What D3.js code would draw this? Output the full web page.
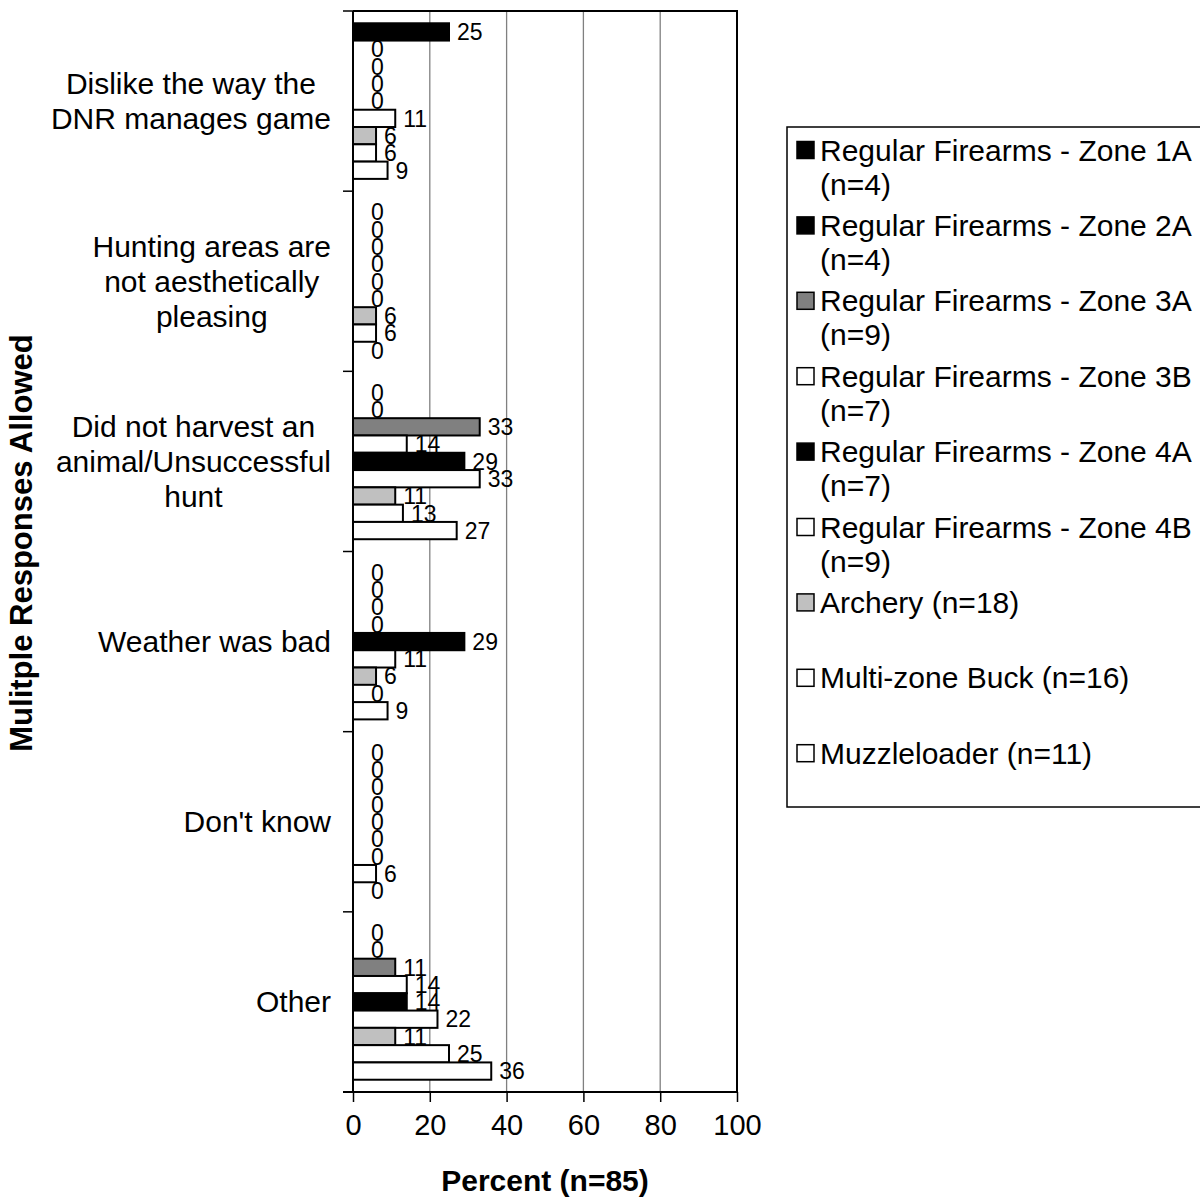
<!DOCTYPE html>
<html><head><meta charset="utf-8">
<script src="https://cdn.jsdelivr.net/npm/d3@7"></script>
<style>body{margin:0;background:#fff} text{font-family:"Liberation Sans",Arial,sans-serif;fill:#000}</style>
</head><body><svg id="c" width="1200" height="1203"></svg>
<script>
// ---------- DATA ----------
const categories = ["Dislike the way the DNR manages game","Hunting areas are not aesthetically pleasing","Did not harvest an animal/Unsuccessful hunt","Weather was bad","Don't know","Other"];
const categoryLines = [["Dislike the way the","DNR manages game"],["Hunting areas are","not aesthetically","pleasing"],["Did not harvest an","animal/Unsuccessful","hunt"],["Weather was bad"],["Don't know"],["Other"]];
const seriesNames = ["Regular Firearms - Zone 1A (n=4)","Regular Firearms - Zone 2A (n=4)","Regular Firearms - Zone 3A (n=9)","Regular Firearms - Zone 3B (n=7)","Regular Firearms - Zone 4A (n=7)","Regular Firearms - Zone 4B (n=9)","Archery (n=18)","Multi-zone Buck (n=16)","Muzzleloader (n=11)"];
const legendLines = [["Regular Firearms - Zone 1A","(n=4)"],["Regular Firearms - Zone 2A","(n=4)"],["Regular Firearms - Zone 3A","(n=9)"],["Regular Firearms - Zone 3B","(n=7)"],["Regular Firearms - Zone 4A","(n=7)"],["Regular Firearms - Zone 4B","(n=9)"],["Archery (n=18)"],["Multi-zone Buck (n=16)"],["Muzzleloader (n=11)"]];
const zone1A = [25, 0, 0, 0, 0, 0];
const zone2A = [0, 0, 0, 0, 0, 0];
const zone3A = [0, 0, 33, 0, 0, 11];
const zone3B = [0, 0, 14, 0, 0, 14];
const zone4A = [0, 0, 29, 29, 0, 14];
const zone4B = [11, 0, 33, 11, 0, 22];
const archery = [6, 6, 11, 6, 0, 11];
const multiZoneBuck = [6, 6, 13, 0, 6, 25];
const muzzleloader = [9, 0, 27, 9, 0, 36];
const xTicks = [0, 20, 40, 60, 80, 100];
const xTitle = "Percent (n=85)";
const yTitle = "Mulitple Responses Allowed";

(function draw() {
const seriesValues = [zone1A, zone2A, zone3A, zone3B, zone4A, zone4B, archery, multiZoneBuck, muzzleloader];
const fills = ["#000000","#000000","#808080","#ffffff","#000000","#ffffff","#c0c0c0","#ffffff","#ffffff"];
const FONT = 30, LABEL_FONT = 23;

const svg = d3.select("#c");
const pL = 353, pR = 737, pT = 11, pB = 1092;

const x = d3.scaleLinear().domain([0, 100]).range([pL, pR]);
const yCat = d3.scaleBand().domain(d3.range(categories.length)).range([pT, pB]).padding(0);
const ySer = d3.scaleBand().domain(d3.range(seriesNames.length)).range([0, yCat.bandwidth()]).paddingInner(0).paddingOuter(0.71);

svg.append("g").selectAll("line").data(xTicks.filter(t => t > 0 && t < 100)).join("line")
  .attr("x1", d => x(d)).attr("x2", d => x(d)).attr("y1", pT).attr("y2", pB)
  .attr("stroke", "#808080").attr("stroke-width", 1.3);

svg.append("path").attr("d", `M${pL},${pT}H${pR}V${pB}`).attr("fill", "none").attr("stroke", "#000").attr("stroke-width", 2);

const rows = [];
categories.forEach((c, ci) => seriesValues.forEach((vals, si) => rows.push({ci, si, v: vals[ci]})));
svg.append("g").selectAll("rect").data(rows.filter(r => r.v > 0)).join("rect")
  .attr("x", x(0)).attr("y", r => yCat(r.ci) + ySer(r.si))
  .attr("width", r => x(r.v) - x(0)).attr("height", ySer.bandwidth())
  .attr("fill", r => fills[r.si]).attr("stroke", "#000").attr("stroke-width", 2);

svg.append("g").selectAll("text").data(rows).join("text")
  .attr("x", r => Math.max(x(r.v) + 8, pL + 18))
  .attr("y", r => yCat(r.ci) + ySer(r.si) + ySer.bandwidth() / 2)
  .attr("dy", "0.36em").attr("font-size", LABEL_FONT)
  .text(r => d3.format("d")(r.v));

const xAxis = d3.axisBottom(x).tickValues(xTicks).tickSize(10).tickPadding(12).tickFormat(d3.format("d"));
const gx = svg.append("g").attr("transform", `translate(0,${pB})`).call(xAxis);
gx.select(".domain").attr("stroke", "#000").attr("stroke-width", 2).attr("d", `M${pL - 10},0H${pR}`);
gx.selectAll(".tick line").attr("stroke", "#000").attr("stroke-width", 1.5);
gx.selectAll(".tick text").attr("font-size", 29).attr("font-family", '"Liberation Sans",Arial,sans-serif').attr("fill", "#000");

const bounds = d3.range(categories.length + 1).map(i => pT + i * yCat.step());
svg.append("line").attr("x1", pL).attr("x2", pL).attr("y1", pT).attr("y2", pB).attr("stroke", "#000").attr("stroke-width", 2);
svg.append("g").selectAll("line").data(bounds).join("line")
  .attr("x1", pL - 10).attr("x2", pL).attr("y1", d => d).attr("y2", d => d)
  .attr("stroke", "#000").attr("stroke-width", 1.5);

const gCat = svg.append("g");
categoryLines.forEach((lines, ci) => {
  const t = gCat.append("text").attr("font-size", FONT).attr("text-anchor", "middle");
  const cy = yCat(ci) + yCat.bandwidth() / 2;
  const spacing = 35;
  lines.forEach((ln, li) => {
    t.append("tspan").attr("y", cy + (li - (lines.length - 1) / 2) * spacing).attr("dy", "0.35em").text(ln);
  });
  let maxW = 0;
  t.selectAll("tspan").each(function() { maxW = Math.max(maxW, this.getComputedTextLength()); });
  t.selectAll("tspan").attr("x", 331 - maxW / 2);
});

svg.append("text").attr("x", (pL + pR) / 2).attr("y", 1191).attr("text-anchor", "middle")
  .attr("font-size", FONT).attr("font-weight", "bold").text(xTitle);
svg.append("text").attr("transform", `translate(32,543) rotate(-90)`).attr("text-anchor", "middle")
  .attr("font-size", 31).attr("font-weight", "bold").text(yTitle);

const lg = svg.append("g");
lg.append("rect").attr("x", 787).attr("y", 127).attr("width", 450).attr("height", 680)
  .attr("fill", "#fff").attr("stroke", "#000").attr("stroke-width", 1.5);
legendLines.forEach((lines, i) => {
  const y0 = 150 + i * 75.4;
  lg.append("rect").attr("x", 797).attr("y", y0 - 8.5).attr("width", 17).attr("height", 17)
    .attr("fill", fills[i]).attr("stroke", "#000").attr("stroke-width", 1.5);
  const t = lg.append("text").attr("font-size", FONT);
  lines.forEach((ln, li) => t.append("tspan").attr("x", 820).attr("y", y0 + li * 34).attr("dy", "0.35em").text(ln));
});
})();
</script>
</body></html>
